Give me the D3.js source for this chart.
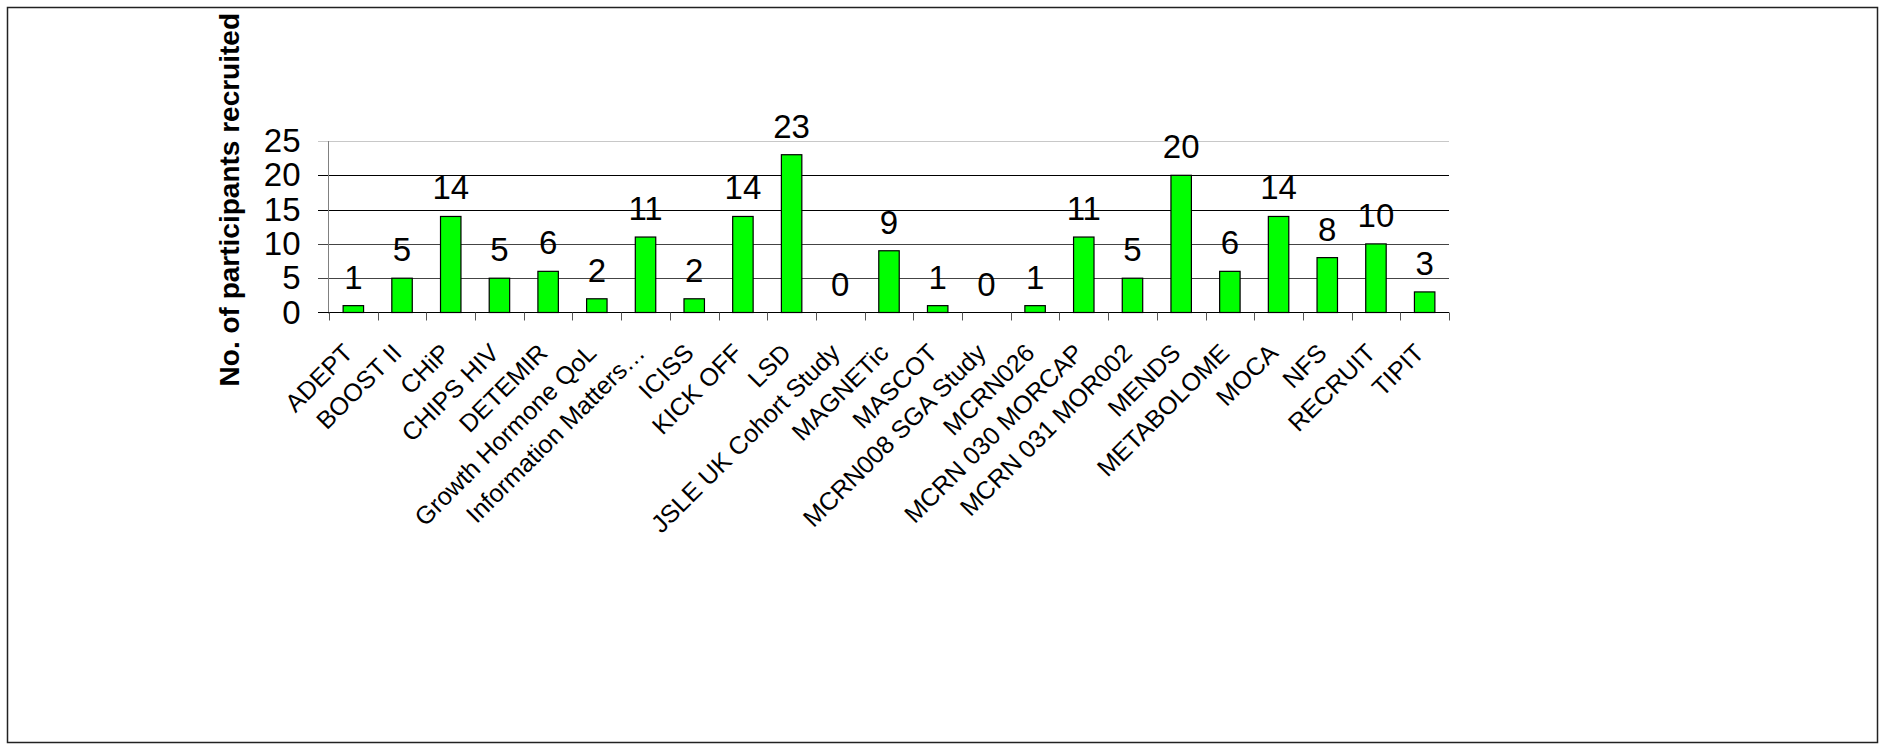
<!DOCTYPE html>
<html>
<head>
<meta charset="utf-8">
<script src="https://cdn.jsdelivr.net/npm/d3@7"></script>
<style>
  body { margin: 0; background: #fff; }
  text { font-family: "Liberation Sans", Arial, sans-serif; fill: #000; }
</style>
</head>
<body>
<script>
var studies = ["ADEPT", "BOOST II", "CHiP", "CHIPS HIV", "DETEMIR", "Growth Hormone QoL",
  "Information Matters...", "ICISS", "KICK OFF", "LSD", "JSLE UK Cohort Study", "MAGNETic",
  "MASCOT", "MCRN008 SGA Study", "MCRN026", "MCRN 030 MORCAP", "MCRN 031 MOR002", "MENDS",
  "METABOLOME", "MOCA", "NFS", "RECRUIT", "TIPIT"];
var recruited = [1, 5, 14, 5, 6, 2, 11, 2, 14, 23, 0, 9, 1, 0, 1, 11, 5, 20, 6, 14, 8, 10, 3];
var yTicks = [0, 5, 10, 15, 20, 25];

var width = 1885, height = 750;
var plotLeft = 329, plotRight = 1449, plotTop = 141, plotBottom = 312.5;

var svg = d3.select("body").append("svg").attr("width", width).attr("height", height);

// outer frame
svg.append("rect")
  .attr("x", 7.5).attr("y", 7.5)
  .attr("width", 1870).attr("height", 735)
  .attr("fill", "none").attr("stroke", "#222").attr("stroke-width", 1.5);

var x = d3.scaleBand().domain(studies).range([plotLeft, plotRight]);
var y = d3.scaleLinear().domain([0, 25]).range([plotBottom, plotTop]);

// gridlines (with the little tick stubs left of the axis)
svg.selectAll("line.grid")
  .data(yTicks.slice(1))
  .enter().append("line")
  .attr("class", "grid")
  .attr("x1", plotLeft - 11).attr("x2", plotRight)
  .attr("y1", function(d){ return Math.round(y(d)) + 0.5; })
  .attr("y2", function(d){ return Math.round(y(d)) + 0.5; })
  .attr("stroke", function(d){ return d == 25 ? "#c8c8c8" : (d >= 15 ? "#000" : "#444"); })
  .attr("stroke-width", 1);

// y axis
var yAxis = svg.append("g")
  .attr("transform", "translate(" + (plotLeft - 0.5) + ",0)")
  .call(d3.axisLeft(y).tickValues(yTicks).tickSize(0).tickPadding(28));
yAxis.select(".domain").attr("stroke", "#808080").attr("d", "M0," + y(25) + "V" + (plotBottom + 1));
yAxis.selectAll("text").attr("font-size", "33px").attr("font-family", "Liberation Sans, Arial, sans-serif");

// bars
var barW = x.bandwidth() * 0.42;
svg.selectAll("rect.bar")
  .data(recruited)
  .enter().append("rect")
  .attr("class", "bar")
  .attr("x", function(d, i){ return x(studies[i]) + (x.bandwidth() - barW) / 2; })
  .attr("y", function(d){ return y(d); })
  .attr("width", barW)
  .attr("height", function(d){ return plotBottom - y(d); })
  .attr("fill", "#00ff00")
  .attr("stroke", "#000")
  .attr("stroke-width", 1.2);

// x axis baseline and ticks
svg.append("line")
  .attr("x1", plotLeft - 11).attr("x2", plotRight)
  .attr("y1", plotBottom).attr("y2", plotBottom)
  .attr("stroke", "#000").attr("stroke-width", 1.2);
svg.selectAll("line.xtick")
  .data(studies.concat(["end"]))
  .enter().append("line")
  .attr("class", "xtick")
  .attr("x1", function(d, i){ return Math.round(plotLeft + i * x.step()) + 0.5; })
  .attr("x2", function(d, i){ return Math.round(plotLeft + i * x.step()) + 0.5; })
  .attr("y1", plotBottom).attr("y2", plotBottom + 8)
  .attr("stroke", "#555");

// value labels
svg.selectAll("text.val")
  .data(recruited)
  .enter().append("text")
  .attr("class", "val")
  .attr("x", function(d, i){ return x(studies[i]) + x.bandwidth() / 2; })
  .attr("y", function(d){ return y(d) - 17; })
  .attr("text-anchor", "middle")
  .attr("font-size", "33px")
  .text(function(d){ return d; });

// category labels, slanted
svg.selectAll("text.cat")
  .data(studies)
  .enter().append("text")
  .attr("class", "cat")
  .attr("text-anchor", "end")
  .attr("font-size", "25px")
  .attr("transform", function(d){ return "translate(" + (x(d) + x.bandwidth() / 2 + 1) + "," + (plotBottom + 42) + ") rotate(-45)"; })
  .text(function(d){ return d.replace("...", "\u2026"); });

// y axis title
svg.append("text")
  .attr("transform", "translate(239,13) rotate(-90)")
  .attr("text-anchor", "end")
  .attr("font-size", "28px")
  .attr("font-weight", "bold")
  .text("No. of participants recruited");
</script>
</body>
</html>
